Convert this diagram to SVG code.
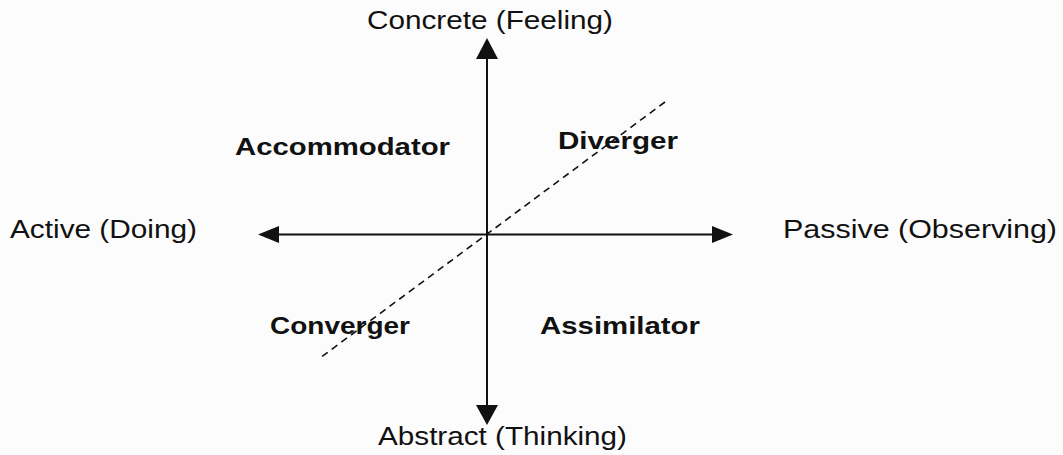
<svg xmlns="http://www.w3.org/2000/svg" width="1063" height="455" viewBox="0 0 1063 455">
<style>
.axis{font-family:"Liberation Sans",Arial,sans-serif;font-size:25px;fill:#111}
.quad{font-family:"Liberation Sans",Arial,sans-serif;font-size:24px;font-weight:bold;fill:#111}
.line{stroke:#111;stroke-width:2;fill:none}
.dash{stroke:#111;stroke-width:1.6;stroke-dasharray:7,5;fill:none}
</style>
<rect width="1063" height="455" fill="#fcfcfc"/>
<g id="connectors">
<line class="line" x1="487" y1="234" x2="487" y2="58"/>
<path d="M487,38 L476,59 L498,59 Z" fill="#111"/>
<line class="line" x1="487" y1="234" x2="487" y2="406"/>
<path d="M487,425 L476,405 L498,405 Z" fill="#111"/>
<line class="line" x1="487" y1="234.5" x2="278" y2="234.5"/>
<path d="M258,234.5 L279,226 L279,243 Z" fill="#111"/>
<line class="line" x1="487" y1="234.5" x2="713" y2="234.5"/>
<path d="M733,234.5 L712,226 L712,243 Z" fill="#111"/>
<line class="dash" x1="665" y1="102" x2="320" y2="358"/>
</g>
<g id="concrete"><text class="axis" x="367" y="29" textLength="246" lengthAdjust="spacingAndGlyphs">Concrete (Feeling)</text></g>
<g id="abstract"><text class="axis" x="378" y="445" textLength="249" lengthAdjust="spacingAndGlyphs">Abstract (Thinking)</text></g>
<g id="active"><text class="axis" x="10" y="238" textLength="187" lengthAdjust="spacingAndGlyphs">Active (Doing)</text></g>
<g id="passive"><text class="axis" x="783" y="238" textLength="274" lengthAdjust="spacingAndGlyphs">Passive (Observing)</text></g>
<g id="accommodator"><text class="quad" x="235" y="155" textLength="215" lengthAdjust="spacingAndGlyphs">Accommodator</text></g>
<g id="diverger"><text class="quad" x="558" y="149" textLength="120" lengthAdjust="spacingAndGlyphs">Diverger</text></g>
<g id="converger"><text class="quad" x="270" y="334" textLength="140" lengthAdjust="spacingAndGlyphs">Converger</text></g>
<g id="assimilator"><text class="quad" x="540" y="334" textLength="160" lengthAdjust="spacingAndGlyphs">Assimilator</text></g>
</svg>
